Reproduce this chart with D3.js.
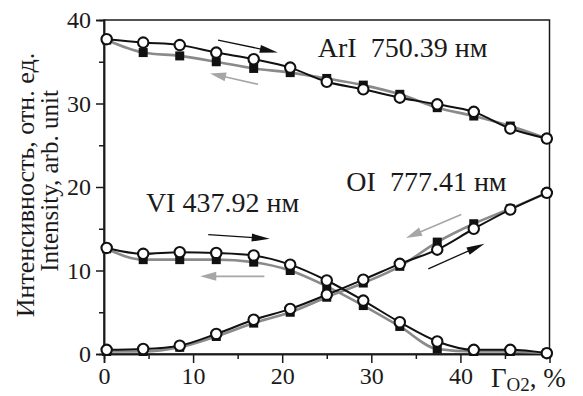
<!DOCTYPE html>
<html><head><meta charset="utf-8">
<script src="https://cdn.jsdelivr.net/npm/d3@7"></script>
<style>
body{margin:0;background:#fff}
text{font-family:"Liberation Serif","DejaVu Serif","Times New Roman",serif;fill:#1a1a1a}
</style></head>
<body><svg id="c" width="583" height="396"></svg>
<script>
const xVals   = [0.3, 4.4, 8.5, 12.6, 16.8, 20.9, 25.0, 29.1, 33.2, 37.4, 41.5, 45.6, 49.7];
const arIUp   = [37.7, 37.3, 37.0, 36.1, 35.3, 34.3, 32.6, 31.7, 30.7, 29.9, 29.0, 27.0, 25.8];
const arIDown = [37.6, 36.1, 35.7, 35.0, 34.2, 33.7, 33.0, 32.2, 31.1, 29.5, 28.5, 27.3, 25.8];
const viUp    = [12.7, 12.0, 12.2, 12.1, 11.8, 10.7, 8.8, 6.4, 3.8, 1.5, 0.5, 0.5, 0.1];
const viDown  = [12.6, 11.3, 11.3, 11.3, 11.0, 10.0, 8.1, 5.8, 3.3, 0.6, 0.3, 0.3, 0.1];
const oiUp    = [0.5, 0.6, 1.0, 2.4, 4.1, 5.4, 7.1, 8.9, 10.8, 12.5, 15.0, 17.3, 19.3];
const oiDown  = [0.3, 0.3, 0.8, 2.1, 3.7, 5.0, 6.8, 8.5, 10.5, 13.4, 15.6, 17.4, 19.3];
const xTicks = [0, 10, 20, 30, 40];
const yTicks = [0, 10, 20, 30, 40];
const xMinor = [5, 15, 25, 35, 45];
const yMinor = [5, 15, 25, 35];
const labels = [
  {text: "ArI  750.39 нм", x: 24.0, y: 35.6},
  {text: "OI  777.41 нм", x: 27.2, y: 19.55},
  {text: "VI 437.92 нм", x: 4.7, y: 17.0}
];
const arrows = [
  {x1: 12.8, y1: 37.6, x2: 19.5, y2: 36.1, kind: "up"},
  {x1: 17.3, y1: 32.3, x2: 11.9, y2: 33.6, kind: "down"},
  {x1: 11.7, y1: 14.3, x2: 18.6, y2: 13.8, kind: "up"},
  {x1: 18.0, y1: 9.3,  x2: 10.8, y2: 9.3,  kind: "down"},
  {x1: 40.1, y1: 16.7, x2: 33.9, y2: 13.9, kind: "down"},
  {x1: 36.4, y1: 10.2, x2: 42.7, y2: 13.2, kind: "up"}
];

const svg = d3.select("#c");
const L = 104, R = 549.5, T = 20, B = 354;
const x = d3.scaleLinear().domain([0, 50]).range([L, R]);
const y = d3.scaleLinear().domain([0, 40]).range([B, T]);

svg.append("rect").attr("x", L).attr("y", T).attr("width", R - L).attr("height", B - T)
  .attr("fill", "none").attr("stroke", "#1a1a1a").attr("stroke-width", 1.5);

const xAx = svg.append("g").attr("transform", `translate(0,${B})`)
  .call(d3.axisBottom(x).tickValues(xTicks).tickSize(9).tickPadding(4).tickFormat(d3.format("d")));
const xAxm = svg.append("g").attr("transform", `translate(0,${B})`)
  .call(d3.axisBottom(x).tickValues(xMinor).tickSize(5).tickFormat(""));
const yAx = svg.append("g").attr("transform", `translate(${L},0)`)
  .call(d3.axisLeft(y).tickValues(yTicks).tickSize(8).tickPadding(5).tickFormat(d3.format("d")));
const yAxm = svg.append("g").attr("transform", `translate(${L},0)`)
  .call(d3.axisLeft(y).tickValues(yMinor).tickSize(5).tickFormat(""));
[xAx, xAxm, yAx, yAxm].forEach(g => {
  g.attr("font-family", null);
  g.select(".domain").attr("stroke", "#1a1a1a").attr("stroke-width", 1.5);
  g.selectAll("line").attr("stroke", "#1a1a1a").attr("stroke-width", 1.5);
  g.selectAll("text").attr("font-size", 24).attr("fill", "#1a1a1a");
});
xAx.selectAll("text").attr("dy", "0.71em");

const line = d3.line().x(d => x(d[0])).y(d => y(d[1])).curve(d3.curveMonotoneX);
const pairs = [[arIUp, arIDown], [viUp, viDown], [oiUp, oiDown]];
const g = svg.append("g");
pairs.forEach(([up, down]) => {
  g.append("path").datum(xVals.map((v, i) => [v, down[i]])).attr("d", line)
    .attr("fill", "none").attr("stroke", "#8a8a8a").attr("stroke-width", 2.6);
});
pairs.forEach(([up, down]) => {
  g.append("path").datum(xVals.map((v, i) => [v, up[i]])).attr("d", line)
    .attr("fill", "none").attr("stroke", "#111").attr("stroke-width", 2);
});
pairs.forEach(([up, down]) => {
  g.selectAll(null).data(xVals.map((v, i) => [v, down[i]])).enter().append("rect")
    .attr("x", d => x(d[0]) - 4.5).attr("y", d => y(d[1]) - 4.5)
    .attr("width", 9).attr("height", 9).attr("fill", "#111");
});
pairs.forEach(([up, down]) => {
  g.selectAll(null).data(xVals.map((v, i) => [v, up[i]])).enter().append("circle")
    .attr("cx", d => x(d[0])).attr("cy", d => y(d[1])).attr("r", 5.2)
    .attr("fill", "#fff").attr("stroke", "#111").attr("stroke-width", 2.1);
});

arrows.forEach(a => {
  const X1 = x(a.x1), Y1 = y(a.y1), X2 = x(a.x2), Y2 = y(a.y2);
  const col = a.kind === "up" ? "#111" : "#a6a6a6";
  const len = Math.hypot(X2 - X1, Y2 - Y1), ux = (X2 - X1) / len, uy = (Y2 - Y1) / len;
  const hl = a.kind === "up" ? 18 : 16, hw = a.kind === "up" ? 4 : 4.5;
  const bx = X2 - ux * hl, by = Y2 - uy * hl;
  svg.append("line").attr("x1", X1).attr("y1", Y1).attr("x2", bx + ux * 2).attr("y2", by + uy * 2)
    .attr("stroke", col).attr("stroke-width", a.kind === "up" ? 1.3 : 1.6);
  svg.append("path").attr("d", `M${X2},${Y2}L${bx - uy * hw},${by + ux * hw}L${bx + uy * hw},${by - ux * hw}Z`)
    .attr("fill", col);
});

labels.forEach(l => {
  svg.append("text").attr("x", x(l.x)).attr("y", y(l.y)).attr("font-size", 28)
    .style("white-space", "pre").text(l.text);
});

svg.append("text").attr("transform", "translate(34,185) rotate(-90)")
  .attr("text-anchor", "middle").attr("font-size", 26).text("Интенсивность, отн. ед.");
svg.append("text").attr("transform", "translate(58,181) rotate(-90)")
  .attr("text-anchor", "middle").attr("font-size", 25).text("Intensity, arb. unit");
const xt = svg.append("text").attr("x", 491).attr("y", 387).attr("font-size", 27);
xt.append("tspan").text("Γ");
xt.append("tspan").attr("font-size", 19).attr("dy", 4).text("O2");
xt.append("tspan").attr("dy", -4).text(", %");
</script></body></html>
